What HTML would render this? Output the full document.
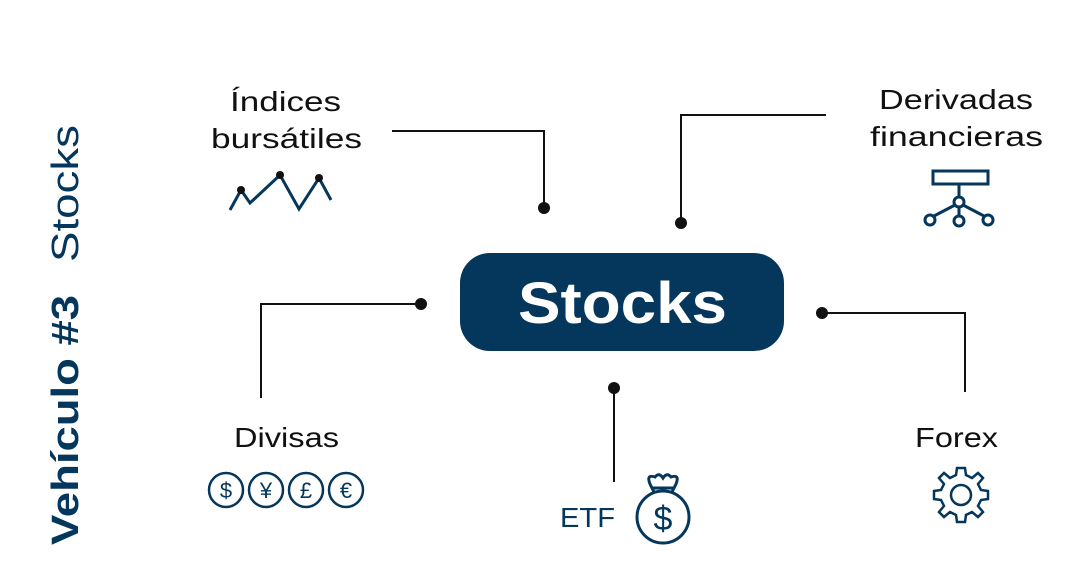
<!DOCTYPE html>
<html><head><meta charset="utf-8"><style>
body{margin:0;background:#fff;}
svg{display:block;font-family:"Liberation Sans",sans-serif;}
</style></head><body>
<svg width="1074" height="565" viewBox="0 0 1074 565">
<g transform="translate(78,545) rotate(-90)" fill="#05365c" font-size="38">
<text x="0" y="0" font-weight="bold" textLength="250" lengthAdjust="spacingAndGlyphs">Vehículo #3</text>
<text x="283" y="0" textLength="137" lengthAdjust="spacingAndGlyphs">Stocks</text>
</g>
<g stroke="#111" stroke-width="2" fill="none">
<polyline points="392,131 544,131 544,208"/>
<polyline points="826,115 681,115 681,223"/>
<polyline points="421,304 261,304 261,398"/>
<polyline points="822,313 965,313 965,392"/>
<polyline points="614,388 614,482"/>
</g>
<g fill="#111">
<circle cx="544" cy="208" r="6"/><circle cx="681" cy="223" r="6"/><circle cx="421" cy="304" r="6"/><circle cx="822" cy="313" r="6"/><circle cx="614" cy="388" r="6"/>
</g>
<rect x="460" y="253" width="324" height="98" rx="30" fill="#05365c"/>
<text x="518" y="323" font-size="58" font-weight="bold" fill="#fff" textLength="209" lengthAdjust="spacingAndGlyphs">Stocks</text>
<g font-size="28" fill="#111" lengthAdjust="spacingAndGlyphs">
<text x="230" y="111" textLength="111" lengthAdjust="spacingAndGlyphs">Índices</text>
<text x="211" y="148" textLength="151" lengthAdjust="spacingAndGlyphs">bursátiles</text>
<text x="879" y="109" textLength="154" lengthAdjust="spacingAndGlyphs">Derivadas</text>
<text x="870" y="146" textLength="173" lengthAdjust="spacingAndGlyphs">financieras</text>
<text x="234" y="447" textLength="105" lengthAdjust="spacingAndGlyphs">Divisas</text>
<text x="915" y="447" textLength="83" lengthAdjust="spacingAndGlyphs">Forex</text>
<text x="560" y="527" fill="#05365c" textLength="55" lengthAdjust="spacingAndGlyphs">ETF</text>
</g>
<g>
<polyline points="230,210 241,190 250,203 280,175 299,209 319,178 331,200" fill="none" stroke="#05365c" stroke-width="3"/>
<circle cx="241" cy="190" r="4" fill="#111"/><circle cx="280" cy="175" r="4" fill="#111"/><circle cx="319" cy="178" r="4" fill="#111"/>
</g>
<g stroke="#05365c" stroke-width="3" fill="none">
<rect x="933" y="171" width="55" height="13"/>
<line x1="959" y1="184" x2="959" y2="197"/>
<circle cx="959" cy="202" r="5"/>
<line x1="955" y1="205" x2="934" y2="216"/><line x1="963" y1="205" x2="984" y2="216"/><line x1="959" y1="207" x2="959" y2="216"/>
<circle cx="930" cy="220" r="5"/><circle cx="959" cy="221" r="5"/><circle cx="988" cy="220" r="5"/>
</g>
<g font-size="22" fill="#05365c" text-anchor="middle">
<g fill="none" stroke="#05365c" stroke-width="2.5">
<circle cx="226" cy="490" r="17"/><circle cx="266" cy="490" r="17"/><circle cx="306" cy="490" r="17"/><circle cx="346" cy="490" r="17"/>
</g>
<text x="226" y="498">$</text><text x="266" y="498">¥</text><text x="306" y="498">£</text><text x="346" y="498">€</text>
</g>
<g stroke="#05365c" stroke-width="3" fill="none">
<circle cx="663" cy="517" r="26"/>
<path d="M654,492 L650,484 Q646,474 655,477 Q659,472 663,478 Q667,472 671,477 Q680,474 676,484 L672,492"/>
<line x1="652" y1="488" x2="674" y2="488"/>
<text x="663" y="530" font-size="34" fill="#05365c" stroke="none" text-anchor="middle">$</text>
</g>
<g transform="translate(961,495)">
<path fill="none" stroke="#05365c" stroke-width="2.5" d="M-4,-27 L4,-27 L5,-20 L11,-17 L17,-22 L22,-17 L17,-11 L20,-5 L27,-4 L27,4 L20,5 L17,11 L22,17 L17,22 L11,17 L5,20 L4,27 L-4,27 L-5,20 L-11,17 L-17,22 L-22,17 L-17,11 L-20,5 L-27,4 L-27,-4 L-20,-5 L-17,-11 L-22,-17 L-17,-22 L-11,-17 L-5,-20 Z"/>
<circle r="10" fill="none" stroke="#05365c" stroke-width="2.5"/>
</g>
</svg>
</body></html>
